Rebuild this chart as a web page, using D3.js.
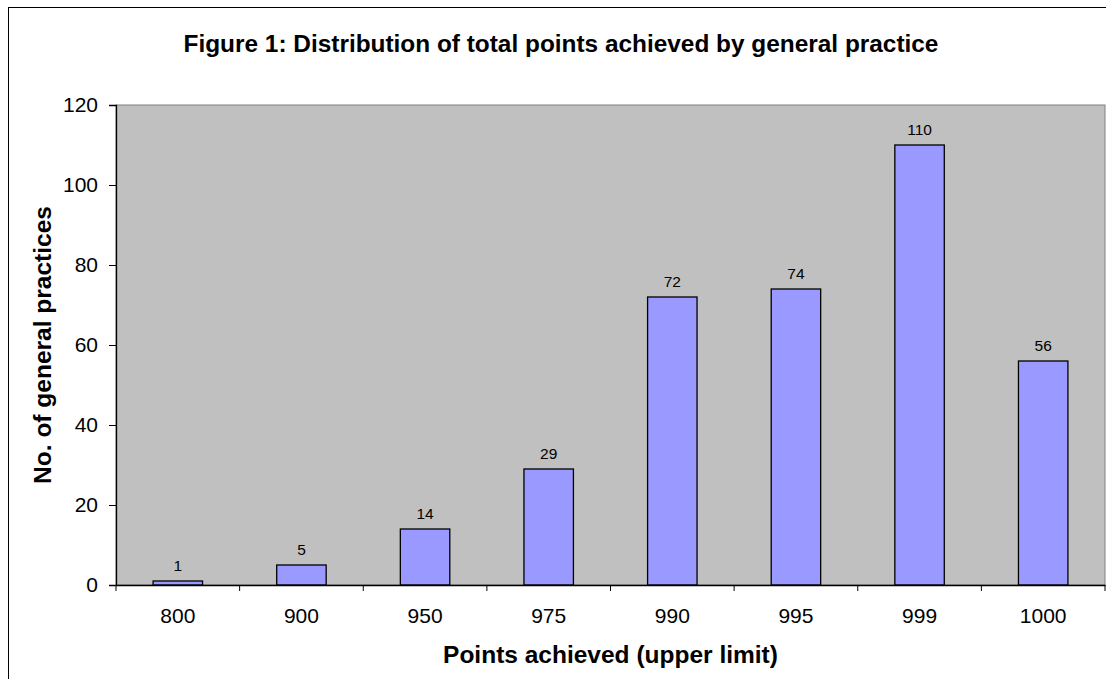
<!DOCTYPE html>
<html>
<head>
<meta charset="utf-8">
<title>Figure 1</title>
<script src="https://d3js.org/d3.v7.min.js"></script>
<style>
  body { margin: 0; background: #fff; }
  text { font-family: "Liberation Sans", Arial, sans-serif; fill: #000; }
</style>
</head>
<body>
<script>
// data
const categories = ["800", "900", "950", "975", "990", "995", "999", "1000"];
const practices = [1, 5, 14, 29, 72, 74, 110, 56];
const yTicks = [0, 20, 40, 60, 80, 100, 120];
const titleText = "Figure 1: Distribution of total points achieved by general practice";
const xLabel = "Points achieved (upper limit)";
const yLabel = "No. of general practices";

const WIDTH = 1106, HEIGHT = 679;
const margin = {top: 105, left: 116, right: 1, bottom: 94};
const width = WIDTH - margin.left - margin.right;
const height = HEIGHT - margin.top - margin.bottom;

const svg = d3.select("body").append("svg")
    .attr("width", WIDTH)
    .attr("height", HEIGHT);

// outer chart frame (runs off the right and bottom edges)
svg.append("rect")
    .attr("x", 8.5).attr("y", 7.5)
    .attr("width", 1120).attr("height", 700)
    .attr("fill", "none").attr("stroke", "#000");

svg.append("text")
    .attr("x", 561).attr("y", 52)
    .attr("text-anchor", "middle")
    .style("font-size", "24.4px").style("font-weight", "bold")
    .text(titleText);

const x = d3.scaleBand().domain(categories).range([0, width])
    .paddingInner(0.6).paddingOuter(0.3);
const y = d3.scaleLinear().domain([0, 120]).range([height, 0]);

const g = svg.append("g")
    .attr("transform", "translate(" + margin.left + "," + margin.top + ")");

// plot area
g.append("rect")
    .attr("x", 0).attr("y", 0)
    .attr("width", width).attr("height", height)
    .attr("fill", "#c0c0c0").attr("stroke", "#808080");

g.selectAll(".bar")
    .data(practices)
    .enter().append("rect")
    .attr("class", "bar")
    .attr("x", (d, i) => x(categories[i]))
    .attr("y", d => y(d))
    .attr("width", x.bandwidth())
    .attr("height", d => y(0) - y(d))
    .attr("fill", "#9999ff")
    .attr("stroke", "#000")
    .attr("stroke-width", 1.3);

g.selectAll(".val")
    .data(practices)
    .enter().append("text")
    .attr("class", "val")
    .attr("x", (d, i) => x(categories[i]) + x.bandwidth() / 2)
    .attr("y", d => y(d) - 10)
    .attr("text-anchor", "middle")
    .style("font-size", "15.5px")
    .text(d => d);

// y axis
const yAxis = g.append("g")
    .call(d3.axisLeft(y).tickValues(yTicks).tickSize(7).tickPadding(11));
yAxis.select(".domain").attr("stroke", "#000").attr("stroke-width", 1.3);
yAxis.selectAll("text").style("font-size", "21px")
    .style("font-family", "'Liberation Sans', Arial, sans-serif");

// x axis: ticks sit on the category boundaries
const xAxis = g.append("g")
    .attr("transform", "translate(0," + height + ")")
    .call(d3.axisBottom(x).tickSize(0).tickPadding(23));
xAxis.select(".domain").attr("stroke", "#000").attr("stroke-width", 1.3);
xAxis.selectAll("text").style("font-size", "21px")
    .style("font-family", "'Liberation Sans', Arial, sans-serif");
const step = x.step();
xAxis.selectAll(".sep")
    .data(d3.range(categories.length + 1))
    .enter().append("line")
    .attr("x1", i => i * step).attr("x2", i => i * step)
    .attr("y1", 0).attr("y2", 6)
    .attr("stroke", "#000");

svg.append("text")
    .attr("x", margin.left + width / 2).attr("y", 663)
    .attr("text-anchor", "middle")
    .style("font-size", "24.5px").style("font-weight", "bold")
    .text(xLabel);

svg.append("text")
    .attr("transform", "translate(51," + (margin.top + height / 2) + ") rotate(-90)")
    .attr("text-anchor", "middle")
    .style("font-size", "24.5px").style("font-weight", "bold")
    .text(yLabel);
</script>
</body>
</html>
